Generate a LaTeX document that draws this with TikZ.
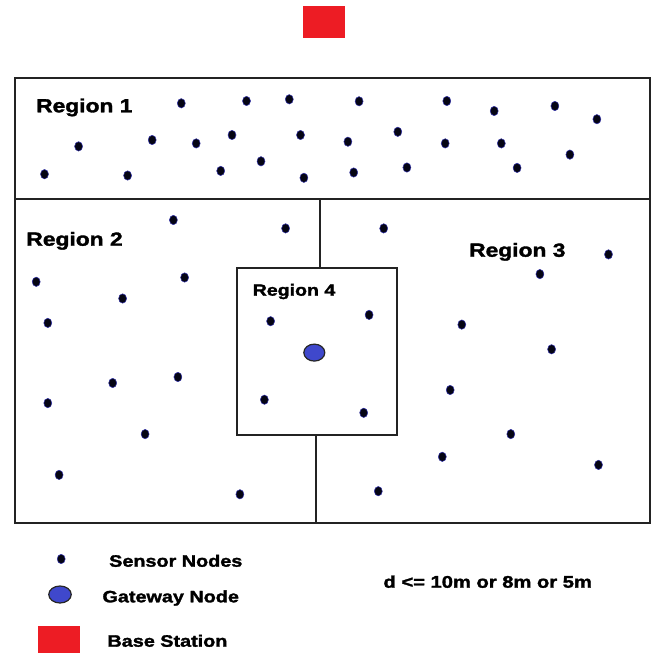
\documentclass[tikz,border=0pt]{standalone}
\usepackage{fontspec}
\newfontfamily\lblfont{Liberation Sans Bold}[FakeStretch=1.2, FakeBold=1.8]
\usetikzlibrary{shapes.geometric}
\definecolor{bsred}{RGB}{237,28,36}
\definecolor{gwblue}{RGB}{63,72,204}
\definecolor{dotfill}{RGB}{5,5,20}
\definecolor{dotedge}{RGB}{50,50,170}
\definecolor{linegray}{RGB}{35,35,35}
\tikzset{
  frame/.style={draw=linegray, line width=2pt},
  sensor/.style={ellipse, fill=dotfill, draw=dotedge, line width=0.5pt, minimum width=8pt, minimum height=9.4pt, inner sep=0pt},
  gateway/.style={ellipse, fill=gwblue, draw=black!85, line width=1.2pt, minimum width=21pt, minimum height=17pt, inner sep=0pt},
  bstation/.style={rectangle, fill=bsred, draw=none, inner sep=0pt},
  lbl/.style={anchor=base west, inner sep=0pt},
}
\begin{document}
\begin{tikzpicture}[x=1pt, y=-1pt]
\useasboundingbox (0,0) rectangle (651,653);
% base station
\node[bstation, minimum width=42.6pt, minimum height=31.7pt] (bs) at (324,21.9) {};
% field
\draw[frame] (15,78) rectangle (649.5,523);
\draw[frame] (15,199) -- (649.5,199);
\draw[frame] (319.5,199) -- (319.5,267.7);
\draw[frame] (236.7,267.7) rectangle (397,434.5);
\draw[frame] (315.5,434.5) -- (315.5,523);
% labels
\node[lbl, font=\lblfont\fontsize{19}{19}\selectfont] (r1) at (36,112.3) {Region 1};
\node[lbl, font=\lblfont\fontsize{19}{19}\selectfont] (r2) at (26.2,245.7) {Region 2};
\node[lbl, font=\lblfont\fontsize{19}{19}\selectfont] (r3) at (469,256.7) {Region 3};
\node[lbl, font=\lblfont\fontsize{16.3}{16.3}\selectfont] (r4) at (252.5,295.7) {Region 4};
% sensor nodes
\foreach \x/\y [count=\i] in {
 181.3/103.3, 246.5/101, 289.3/99.3, 359.1/101.3, 446.8/101, 494.2/111, 554.9/106, 596.9/119.2,
 78.6/146.4, 152.2/140, 196.2/143.4, 232/135, 300.5/135, 347.9/141.7, 397.8/131.8, 445.2/143.4, 501.3/143.4, 569.9/154.6,
 44.5/174.2, 127.6/175.5, 220.7/170.9, 261/161.3, 303.9/177.8, 353.7/172.5, 406.9/167.5, 517.1/167.9,
 173.4/220, 285.6/228.4, 383.7/228.4, 608.5/254.4, 539.9/274.1, 36.2/281.8, 184.6/277.5, 122.6/298.5,
 47.8/322.9, 270.6/321.2, 369.1/314.9, 461.8/324.6, 551.6/349.3, 112.7/383, 177.9/377, 47.8/403.1,
 264.4/399.7, 363.7/412.8, 450.2/390, 145.1/434.1, 510.8/434.1, 442.3/456.8, 598.5/464.9, 59.1/474.9,
 239.9/494.3, 378.3/491.2}
 \node[sensor] (s\i) at (\x,\y) {};
% gateway
\node[gateway] (gw) at (314.3,352.6) {};
% legend
\node[sensor] (legs) at (61.2,559) {};
\node[lbl, font=\lblfont\fontsize{16.5}{16.5}\selectfont] (legst) at (109,566.7) {Sensor Nodes};
\node[gateway, minimum width=22.5pt, minimum height=17pt] (legg) at (60,594.5) {};
\node[lbl, font=\lblfont\fontsize{16.5}{16.5}\selectfont] (leggt) at (102.3,602.3) {Gateway Node};
\node[bstation, minimum width=42.7pt, minimum height=30pt, anchor=north west] (legb) at (37.3,626) {};
\node[lbl, font=\lblfont\fontsize{16.5}{16.5}\selectfont] (legbt) at (107.3,646.7) {Base Station};
\node[lbl, font=\lblfont\fontsize{16.8}{16.8}\selectfont] (dist) at (383.3,587.7) {d <= 10m or 8m or 5m};
\end{tikzpicture}
\end{document}
